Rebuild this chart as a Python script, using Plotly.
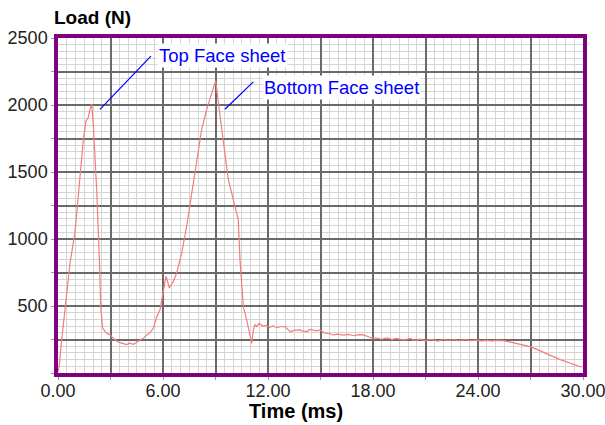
import plotly.graph_objects as go

# ---- data ----
time_ms = [0, 0.07, 0.21, 0.5, 0.69, 0.97, 1.26, 1.45, 1.6, 1.73, 1.83, 1.93, 2.02, 2.21, 2.36,
           2.44, 2.55, 2.75, 2.97, 3.26, 3.5, 3.7, 3.92, 4.1, 4.3, 4.5, 4.69, 4.9, 5.07, 5.26,
           5.45, 5.64, 5.83, 6.02, 6.17, 6.25, 6.36, 6.5, 6.59, 6.78, 7.07, 7.35, 7.64, 7.92,
           8.21, 8.5, 8.78, 9.01, 9.26, 9.54, 9.73, 10.11, 10.3, 10.4, 10.59, 10.78, 10.97,
           11.07, 11.16, 11.26, 11.35, 11.5, 11.7, 11.92, 12.1, 12.3, 12.5, 12.7, 12.97, 13.1,
           13.26, 13.5, 13.83, 14.0, 14.21, 14.4, 14.59, 14.8, 14.97, 15.2, 15.5, 15.73, 16.0,
           16.3, 16.6, 16.9, 17.2, 17.45, 17.7, 17.9, 18.21, 18.5, 18.8, 19.1, 19.3, 19.54,
           19.8, 20.1, 20.4, 20.7, 21.0, 21.2, 21.45, 21.7, 22.0, 22.3, 22.6, 22.9, 23.1,
           23.35, 23.6, 23.9, 24.2, 24.5, 24.8, 25.1, 25.45, 25.8, 26.2, 26.6, 26.97, 27.3,
           27.7, 28.0, 28.3, 28.7, 29.1, 29.5, 29.93]
load_n = [10, 47, 247, 571, 823, 1048, 1445, 1744, 1881, 1909, 1969, 2006, 1844, 1370, 870,
          496, 335, 300, 284, 247, 228, 218, 212, 222, 214, 230, 247, 262, 284, 300,
          335, 420, 472, 597, 721, 690, 634, 665, 683, 746, 896, 1095, 1345, 1594,
          1819, 1969, 2094, 2180, 1918, 1644, 1445, 1245, 1145, 846, 496, 397, 272,
          222, 322, 359, 347, 370, 350, 355, 340, 352, 338, 345, 347, 330,
          309, 318, 322, 312, 309, 325, 322, 315, 322, 300, 295, 284, 290,
          282, 288, 278, 286, 284, 272, 262, 260, 252, 262, 250, 258, 252,
          245, 258, 244, 252, 240, 250, 247, 238, 250, 242, 250, 240, 248,
          247, 242, 246, 240, 244, 240, 243, 242, 232, 220, 208, 197, 180,
          155, 138, 122, 100, 80, 60, 43]

x_ticks = [0, 3, 6, 9, 12, 15, 18, 21, 24, 27, 30]
x_tick_text = ["0.00", "", "6.00", "", "12.00", "", "18.00", "", "24.00", "", "30.00"]
y_ticks = [0, 250, 500, 750, 1000, 1250, 1500, 1750, 2000, 2250, 2500]
y_tick_text = ["", "", "500", "", "1000", "", "1500", "", "2000", "", "2500"]

# annotation anchor / label positions (data units)
top_label = "Top Face sheet"
top_line = (2.4, 1968, 5.31, 2365)
top_text_pos = (5.66, 2368)
bot_label = "Bottom Face sheet"
bot_line = (9.54, 1968, 11.16, 2173)
bot_text_pos = (11.64, 2131)

FONT = "Liberation Sans, Arial, sans-serif"
PURPLE = "#800080"

fig = go.Figure()
fig.add_trace(go.Scatter(x=time_ms, y=load_n, mode="lines",
                         line=dict(color="#f47c7c", width=1.2), showlegend=False,
                         hoverinfo="skip"))

for (x0, y0, x1, y1) in (top_line, bot_line):
    fig.add_shape(type="line", xref="x", yref="y", x0=x0, y0=y0, x1=x1, y1=y1,
                  line=dict(color="#0000ff", width=1.2))

for label, (tx, ty) in ((top_label, top_text_pos), (bot_label, bot_text_pos)):
    fig.add_annotation(x=tx, y=ty, xref="x", yref="y", text=label, showarrow=False,
                       xanchor="left", yanchor="middle", bgcolor="white", borderpad=1,
                       font=dict(family=FONT, size=18.5, color="#0000ff"))

fig.add_annotation(x=-0.012, y=1.06, xref="paper", yref="paper", text="<b>Load (N)</b>",
                   showarrow=False, xanchor="left", yanchor="middle",
                   font=dict(family=FONT, size=19, color="black"))
fig.add_annotation(x=0.454, y=-0.113, xref="paper", yref="paper", text="<b>Time (ms)</b>",
                   showarrow=False, xanchor="center", yanchor="middle",
                   font=dict(family=FONT, size=20, color="black"))

axis_common = dict(showline=True, linecolor=PURPLE, linewidth=3.5, mirror=True,
                   showgrid=True, gridcolor="#6a6a6a", gridwidth=1.5,
                   ticks="outside", ticklen=3, tickcolor="#999999", tickwidth=1,
                   zeroline=False, automargin=False, ticklabeloverflow="allow",
                   tickfont=dict(family=FONT, size=18, color="#222222"))

fig.update_xaxes(range=[0, 30], tickvals=x_ticks, ticktext=x_tick_text,
                 ticklabelstandoff=-4,
                 minor=dict(dtick=0.5, showgrid=True, gridcolor="#d4d4d4", gridwidth=1),
                 **axis_common)
fig.update_yaxes(range=[0, 2500], tickvals=y_ticks, ticktext=y_tick_text,
                 minor=dict(dtick=50, showgrid=True, gridcolor="#d4d4d4", gridwidth=1),
                 **axis_common)

fig.update_layout(width=605, height=425, margin=dict(l=58, r=22, t=38, b=52),
                  paper_bgcolor="white", plot_bgcolor="white")

fig.write_html("out.html", config={"displayModeBar": False},
               post_script="document.body.style.margin='0';")
